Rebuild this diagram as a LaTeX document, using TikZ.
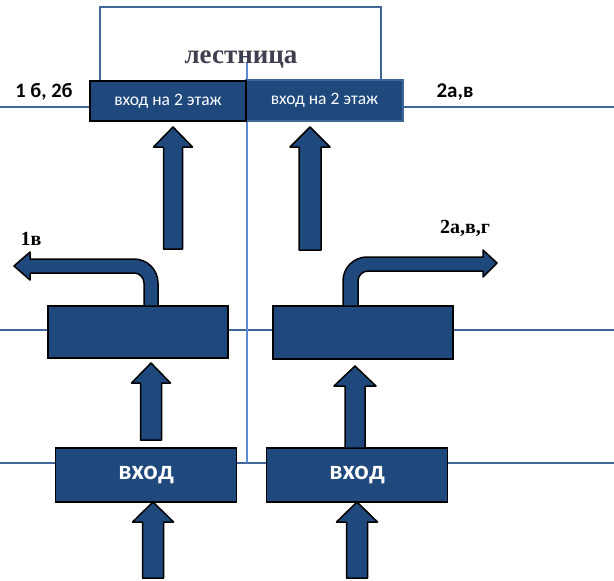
\documentclass[tikz,border=0pt]{standalone}
\usepackage{fontspec}
\setmainfont{Liberation Serif}
\newfontfamily\calibri{Carlito}
\usetikzlibrary{calc}

\definecolor{boxblue}{HTML}{1F497D}
\definecolor{lineblue}{HTML}{41669A}
\definecolor{axisblue}{HTML}{5B8BD0}
\definecolor{stairgray}{HTML}{3F3F4F}

\tikzset{
	room/.style={draw=black, line width=1.5pt, fill=boxblue, text=white, inner sep=0pt, font=\calibri},
	floorline/.style={draw=lineblue, line width=2.5pt},
	bigarrow/.style={draw=black, line width=1.5pt, fill=boxblue, line join=round},
	tag/.style={anchor=base, inner sep=0pt},
}

% x, y bottom, y tip, shaft half width, head half width
\newcommand{\blockup}[5]{%
	\filldraw[bigarrow] (#1-#4,#2) -- (#1-#4,#3+20) -- (#1-#5,#3+20) -- (#1,#3)
		-- (#1+#5,#3+20) -- (#1+#4,#3+20) -- (#1+#4,#2) -- cycle;}

\begin{document}
\begin{tikzpicture}[x=1pt, y=-1pt]
	\useasboundingbox (0,0) rectangle (614,581);

	\begin{scope}
		\draw[floorline] (0,107) -- (614,107);
		\draw[floorline] (0,330) -- (614,330);
		\draw[floorline] (0,463) -- (614,463);
		\draw[draw=lineblue, line width=2pt] (100,81) -- (100,7) -- (381,7) -- (381,81);
		\draw[draw=axisblue, line width=1.5pt] (247,63) -- (247,463);
	\end{scope}

	\node[tag, text=stairgray, font=\bfseries\fontsize{27}{30}\selectfont] (stair) at (241,63) {лестница};

	% second floor
	\begin{scope}[every node/.style={room, font=\calibri\fontsize{17.5}{19}\selectfont}]
		\node[minimum width=157pt, minimum height=41pt, draw=lineblue] (upR) at (324.5,100.5) {вход на 2 этаж};
		\node[minimum width=156pt, minimum height=40pt] (upL) at (168,101) {вход на 2 этаж};
	\end{scope}

	\node[tag, font=\calibri\bfseries\fontsize{20.5}{22}\selectfont] (flatsL) at (44,97) {1 б, 2б};
	\node[tag, font=\calibri\bfseries\fontsize{21}{22}\selectfont] (flatsR) at (455,97) {2а,в};

	% hall
	\node[room, minimum width=180pt, minimum height=52pt] (hallL) at (138,332) {};
	\node[room, minimum width=180pt, minimum height=53pt] (hallR) at (363,332.5) {};

	% entrance
	\begin{scope}[every node/.style={room, minimum width=181pt, minimum height=54pt, font=\calibri\bfseries\fontsize{27}{28}\selectfont}]
		\node (doorL) at (146,475) {вход};
		\node (doorR) at (357,475) {вход};
	\end{scope}

	\blockup{173}{249}{127}{9.5}{19.5}
	\blockup{310}{250}{127}{11}{20}
	\blockup{151}{440}{363}{10.5}{19.5}
	\blockup{355}{448}{366}{10}{21}
	\blockup{153}{578}{502}{10.5}{20.5}
	\blockup{357}{578}{502}{10.5}{20.5}

	\filldraw[bigarrow] (144,306) -- (144,283) .. controls (144,277.5) and (139.5,273) .. (134,273) -- (30,273) -- (30,280)
		-- (14,266) -- (30,252) -- (30,259) -- (134,259) .. controls (147.3,259) and (158,269.7) .. (158,283) -- (158,306) -- cycle;
	\filldraw[bigarrow] (358,306) -- (358,281) .. controls (358,275.5) and (362.5,271) .. (368,271) -- (483,271) -- (483,277)
		-- (497,263) -- (483,250) -- (483,257) -- (367,257) .. controls (353.7,257) and (343,267.7) .. (343,281) -- (343,306) -- cycle;

	\node[tag, font=\bfseries\fontsize{20}{22}\selectfont] (exitL) at (31,245) {1в};
	\node[tag, font=\bfseries\fontsize{20}{22}\selectfont] (exitR) at (465,233) {2а,в,г};
\end{tikzpicture}
\end{document}
